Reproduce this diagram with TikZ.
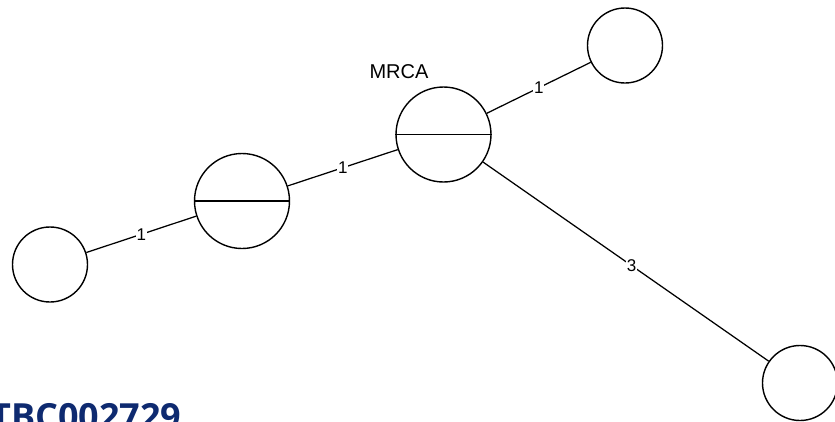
\documentclass[tikz,border=0pt]{standalone}
\usepackage{fontspec}
\setmainfont{Liberation Sans}
\newfontfamily\idfont{Open Sans}
\usepackage{xcolor}
\usepackage{tikz}
\usetikzlibrary{positioning}

\definecolor{idblue}{RGB}{14,42,112}

\begin{document}
\begin{tikzpicture}[
  x=1pt, y=-1pt,
  hap/.style={draw, circle, line width=1.4pt, inner sep=0pt, minimum size=75pt},
  anc/.style={hap, minimum size=95pt},
  edge/.style={line width=1.25pt},
  elab/.style={fill=white, inner sep=0.6pt, font=\fontsize{17}{17}\selectfont},
  tag/.style={font=\fontsize{20}{20}\selectfont}]
\useasboundingbox (0,0) rectangle (835,421);
\clip (0,0) rectangle (835,421);
% haplotypes
\node[hap] (left) at (50,264.5) {};
\node[anc] (mid) at (242,201) {};
\node[anc] (mrca) at (443.5,134.5) {};
\node[hap] (topr) at (625,45.5) {};
\node[hap] (botr) at (800,383) {};
\draw[line width=1.4pt] (mid.west) -- (mid.east);
\draw[line width=1.4pt] (mrca.west) -- (mrca.east);
\node[tag] (mrcalab) at (399,72) {MRCA};
% mutational steps
\draw[edge] (left) -- node[elab] {1} (mid);
\draw[edge] (mid) -- node[elab] {1} (mrca);
\draw[edge] (mrca) -- node[elab] {1} (topr);
\draw[edge] (mrca) -- node[elab, pos=0.52] {3} (botr);
% sample id
\node[anchor=base west, inner sep=0pt, text=idblue,
      font=\idfont\bfseries\fontsize{36}{36}\selectfont] (sid) at (-10,429) {TBC002729};
\end{tikzpicture}
\end{document}
